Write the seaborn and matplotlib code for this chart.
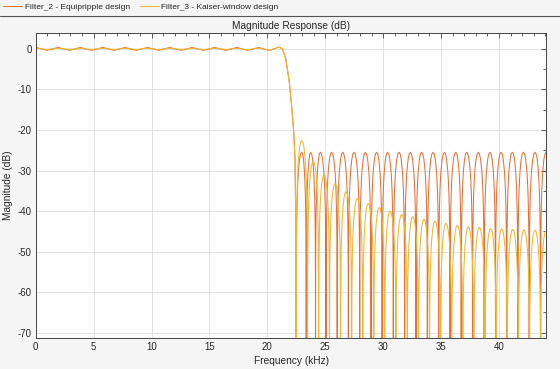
import numpy as np
import pandas as pd
import matplotlib
matplotlib.use("Agg")
import matplotlib.pyplot as plt
from matplotlib.lines import Line2D
from matplotlib.ticker import MultipleLocator
import seaborn as sns

# ---------------- data ----------------
SERIES = ["Filter_2 - Equipripple design", "Filter_3 - Kaiser-window design"]
COLORS = ["#E2713A", "#EFB733"]

# passband (kHz, dB) - ripple extrema
EQ_PASS_F = [0.0, 0.97, 1.93, 2.9, 3.86, 4.83, 5.79, 6.76, 7.72, 8.69, 9.65, 10.62,
             11.58, 12.55, 13.51, 14.48, 15.44, 16.41, 17.37, 18.3, 19.25, 20.2, 21.0]
EQ_PASS_DB = [0.4, -0.35, 0.35, -0.35, 0.35, -0.35, 0.35, -0.35, 0.35, -0.35, 0.35, -0.35,
              0.35, -0.35, 0.35, -0.35, 0.35, -0.35, 0.35, -0.35, 0.35, -0.4, 0.45]
KA_PASS_F = EQ_PASS_F
KA_PASS_DB = [0.15, -0.12, 0.12, -0.12, 0.12, -0.12, 0.12, -0.12, 0.12, -0.12, 0.12, -0.12,
              0.12, -0.12, 0.12, -0.12, 0.12, -0.12, 0.12, -0.15, 0.15, -0.3, 0.4]

# transition band (kHz, dB)
TRANS_F = [21.3, 21.6, 21.9, 22.1, 22.28, 22.39, 22.45, 22.5]
TRANS_DB = [0.0, -2.5, -8.2, -14.0, -20.5, -27.0, -40.0, -80.0]

# stopband lobe peaks (kHz, dB)
EQ_PEAK_F = [22.97, 23.75, 24.58, 25.56, 26.51, 27.49, 28.47, 29.44, 30.39, 31.37, 32.35, 33.33,
             34.31, 35.29, 36.27, 37.22, 38.22, 39.23, 40.18, 41.16, 42.11, 43.12, 44.07]
EQ_PEAK_DB = [-25.5] * 23
KA_PEAK_F = [22.97, 23.97, 24.90, 25.85, 26.80, 27.77, 28.72, 29.67, 30.60, 31.61, 32.56, 33.53,
             34.48, 35.43, 36.41, 37.36, 38.31, 39.29, 40.24, 41.19, 42.17, 43.12, 44.07]
KA_PEAK_DB = [-22.6, -27.8, -31.1, -33.3, -35.2, -36.9, -38.1, -39.1, -40.0, -40.8, -41.4, -42.0,
              -42.5, -43.0, -43.5, -43.9, -44.0, -44.3, -44.4, -44.5, -44.6, -44.7, -44.9]

# lobe profile read from one sidelobe: position across the lobe (0..1) and level relative to its peak (dB)
LOBE_T = [0.0, 0.01, 0.03, 0.06, 0.1, 0.15, 0.2, 0.3, 0.4, 0.5, 0.6, 0.7, 0.8, 0.85, 0.9, 0.94, 0.97, 0.99, 1.0]
LOBE_REL = [-60.0, -30.1, -20.5, -14.6, -10.2, -6.9, -4.6, -1.8, -0.4, 0.0, -0.4, -1.8, -4.6, -6.9,
            -10.2, -14.6, -20.5, -30.1, -60.0]

FIRST_NULL = 22.5
X_TICKS = [0, 5, 10, 15, 20, 25, 30, 35, 40]
Y_TICKS = [0, -10, -20, -30, -40, -50, -60, -70]


def build(pass_f, pass_db, peak_f, peak_db):
    f = list(pass_f) + list(TRANS_F)
    d = list(pass_db) + list(TRANS_DB)
    pk = np.array(peak_f)
    nulls = [FIRST_NULL] + list((pk[:-1] + pk[1:]) / 2) + [pk[-1] + (pk[-1] - pk[-2]) / 2 + 0.5]
    t = np.array(LOBE_T)
    rel = np.array(LOBE_REL)
    for i, (p, lvl) in enumerate(zip(peak_f, peak_db)):
        a, b = nulls[i], nulls[i + 1]
        left = t <= 0.5
        xs = np.where(left, a + (p - a) * t / 0.5, p + (b - p) * (t - 0.5) / 0.5)
        f += list(xs)
        d += list(lvl + rel)
    return f, d


rows = []
for name, args in zip(SERIES, [(EQ_PASS_F, EQ_PASS_DB, EQ_PEAK_F, EQ_PEAK_DB),
                               (KA_PASS_F, KA_PASS_DB, KA_PEAK_F, KA_PEAK_DB)]):
    f, d = build(*args)
    for i, (fi, di) in enumerate(zip(f, d)):
        rows.append({"freq": fi, "db": di, "filter": name, "idx": i})
df = pd.DataFrame(rows)

# ---------------- styling ----------------
sns.set_theme(style="white")
plt.rcParams["font.family"] = ["Liberation Sans", "DejaVu Sans"]
plt.rcParams["axes.unicode_minus"] = False

W, H = 560, 369
fig = plt.figure(figsize=(W / 100, H / 100), dpi=100, facecolor="#F5F5F5")
ax = fig.add_axes([35.7 / W, 1 - 337.5 / H, (546.4 - 35.7) / W, (337.5 - 33.3) / H])
ax.set_facecolor("white")

sns.lineplot(data=df, x="freq", y="db", hue="filter", palette=dict(zip(SERIES, COLORS)),
             sort=False, estimator=None, units="filter", legend=False, linewidth=0.75, ax=ax)

ax.set_xlim(0, 44.1)
ax.set_ylim(-71.2, 3.85)
ax.set_xticks(X_TICKS)
ax.set_yticks(Y_TICKS)
ax.set_xticklabels([str(v) for v in X_TICKS])
ax.set_yticklabels([str(v) for v in Y_TICKS])
ax.xaxis.set_minor_locator(MultipleLocator(1))
ax.yaxis.set_minor_locator(MultipleLocator(5))
ax.grid(True, which="major", color="#E3E3E3", linewidth=0.7)
ax.set_axisbelow(True)
ax.tick_params(which="both", direction="in", top=True, right=True, colors="#262626",
               labelsize=6.9, width=0.5, pad=3)
ax.tick_params(which="major", length=3.5)
ax.tick_params(which="minor", length=2)
for s in ax.spines.values():
    s.set_color("#444444")
    s.set_linewidth(0.7)

ax.set_xlabel("Frequency (kHz)", fontsize=7.3, color="#262626", labelpad=3)
ax.set_ylabel("Magnitude (dB)", fontsize=7.3, color="#262626", labelpad=3)
ax.set_title("Magnitude Response (dB)", fontsize=7.3, color="#262626", pad=3)

handles = [Line2D([], [], color=c, lw=0.75) for c in COLORS]
fig.legend(handles, SERIES, loc="center left", bbox_to_anchor=(0.0, 1 - 7.5 / H), ncol=2, frameon=False,
           fontsize=6.0, handlelength=2.3, handletextpad=0.3, columnspacing=1.2, borderaxespad=0.0,
           borderpad=0.35)
fig.add_artist(Line2D([0, 1], [1 - 15.5 / H, 1 - 15.5 / H], transform=fig.transFigure,
                      color="#555555", lw=0.8))

fig.savefig("out.png", dpi=100, facecolor=fig.get_facecolor())
